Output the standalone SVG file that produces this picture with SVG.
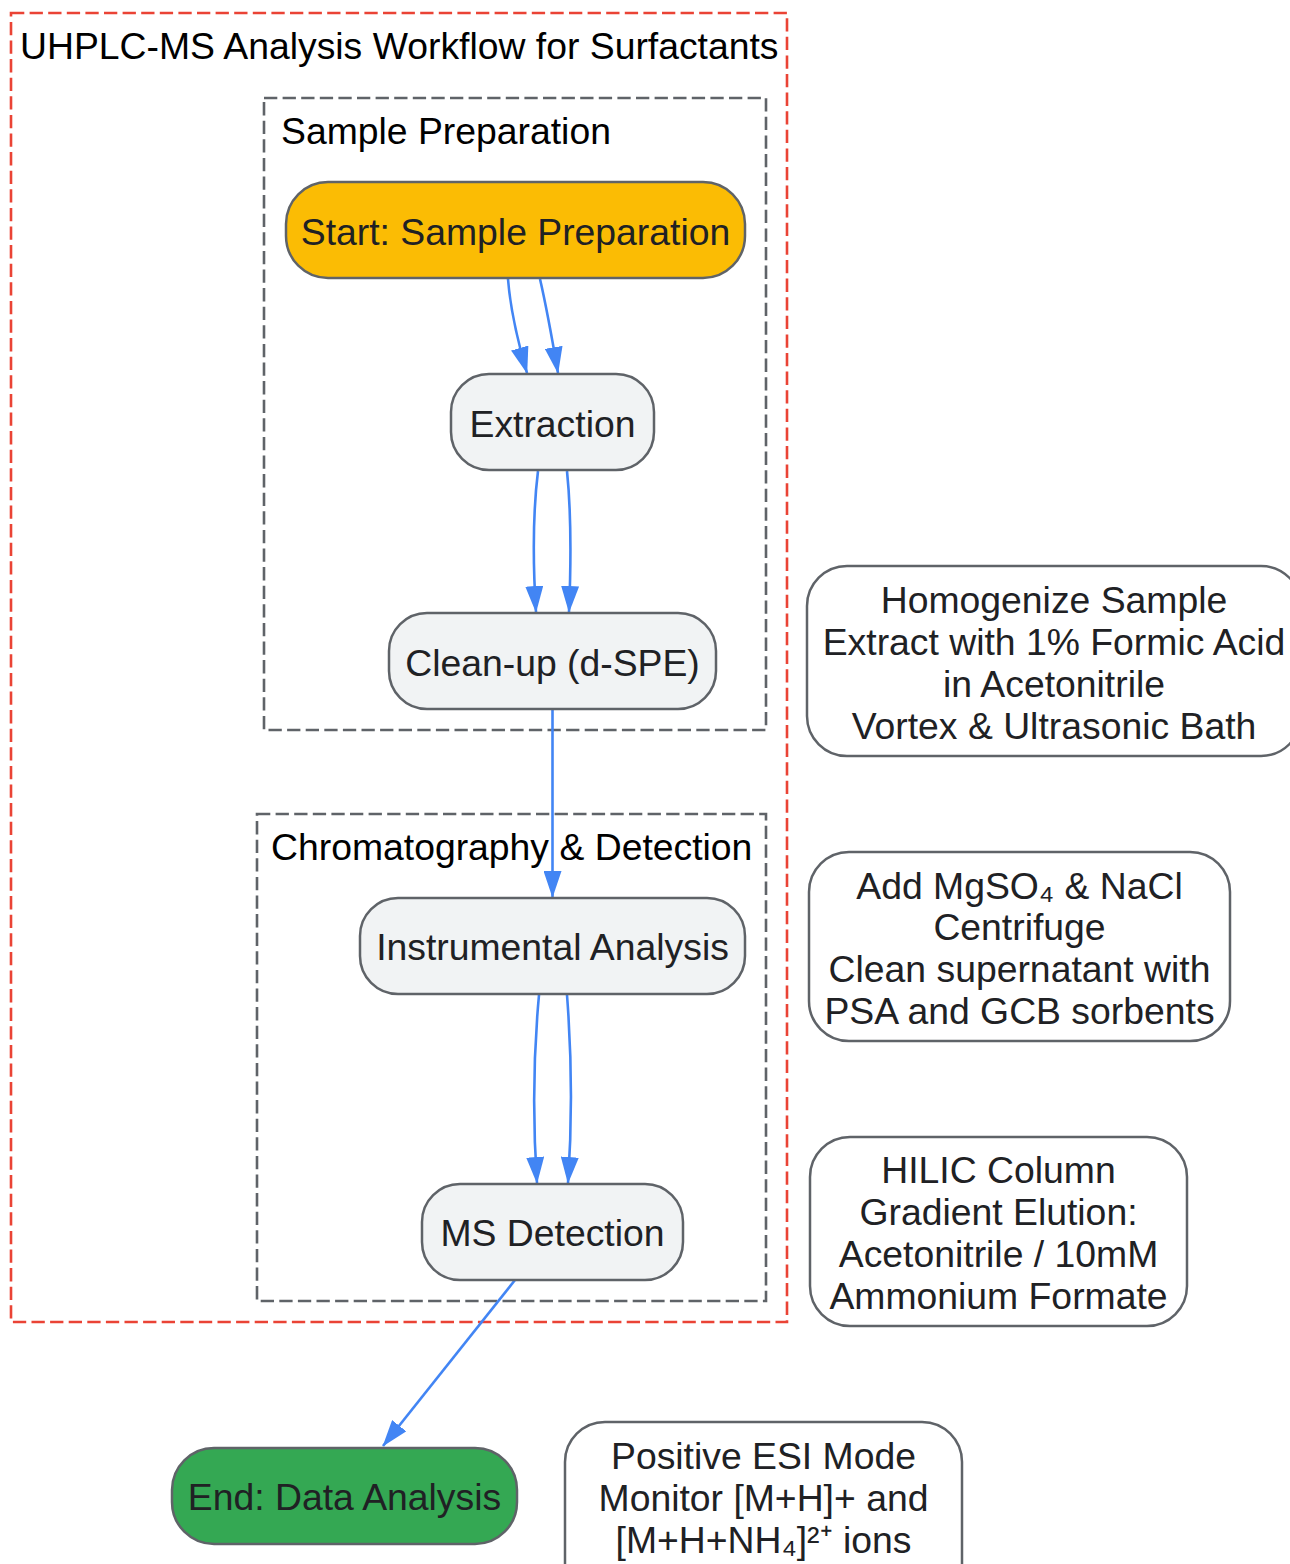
<svg xmlns="http://www.w3.org/2000/svg" width="1290" height="1564" viewBox="0 0 1290 1564">
<style>
text{font-family:"Liberation Sans",Arial,sans-serif;font-size:37.33px}
.cl{fill:#000}
.nt{fill:#202124;text-anchor:middle}
.node{fill:#f1f3f4;stroke:#5f6368;stroke-width:2.5}
.note{fill:#ffffff;stroke:#5f6368;stroke-width:2.5}
.edge{fill:none;stroke:#4285f4;stroke-width:2.6}
.clu{fill:none;stroke:#5f6368;stroke-width:2.6;stroke-dasharray:13.3,5.3}
</style>
<defs>
<marker id="ah" markerUnits="userSpaceOnUse" markerWidth="27" markerHeight="18" refX="26" refY="9" orient="auto">
<path d="M0,0 L26.7,9 L0,18 z" fill="#4285f4"/>
</marker>
</defs>
<rect width="1290" height="1564" fill="#ffffff"/>
<g id="cluster-outer">
<rect x="11" y="13" width="776" height="1309" fill="none" stroke="#ea4335" stroke-width="2.6" stroke-dasharray="13.3,5.3"/>
<text class="cl" x="20" y="59">UHPLC-MS Analysis Workflow for Surfactants</text>
</g>
<g id="cluster-prep">
<rect class="clu" x="264" y="98" width="502" height="632"/>
<text class="cl" x="281" y="144">Sample Preparation</text>
</g>
<g id="cluster-chrom">
<rect class="clu" x="257" y="814" width="509" height="487"/>
<text class="cl" x="271" y="860">Chromatography &amp; Detection</text>
</g>
<g id="connectors">
<path class="edge" marker-end="url(#ah)" d="M508,279 C510,305 515,332 527,373"/>
<path class="edge" marker-end="url(#ah)" d="M540,279 C546,305 551,332 558,373"/>
<path class="edge" marker-end="url(#ah)" d="M538,471 C532,520 533,565 536,612"/>
<path class="edge" marker-end="url(#ah)" d="M567,471 C572,520 571,565 569,612"/>
<path class="edge" marker-end="url(#ah)" d="M552.5,709 L552.5,897"/>
<path class="edge" marker-end="url(#ah)" d="M539,995 C533,1060 533,1125 537,1183"/>
<path class="edge" marker-end="url(#ah)" d="M567,995 C572,1060 572,1125 568,1183"/>
<path class="edge" marker-end="url(#ah)" d="M515,1280 L383,1446"/>
</g>
<g id="node-start">
<rect x="286" y="182" width="459" height="96" rx="42" fill="#fbbc04" stroke="#5f6368" stroke-width="2.5"/>
<text class="nt" x="515.5" y="245">Start: Sample Preparation</text>
</g>
<g id="node-extraction">
<rect class="node" x="451" y="374" width="203" height="96" rx="38"/>
<text class="nt" x="552.5" y="437">Extraction</text>
</g>
<g id="node-cleanup">
<rect class="node" x="389" y="613" width="327" height="96" rx="38"/>
<text class="nt" x="552.5" y="676">Clean-up (d-SPE)</text>
</g>
<g id="node-instrumental">
<rect class="node" x="360" y="898" width="385" height="96" rx="38"/>
<text class="nt" x="552.5" y="960">Instrumental Analysis</text>
</g>
<g id="node-ms">
<rect class="node" x="422" y="1184" width="261" height="96" rx="38"/>
<text class="nt" x="552.5" y="1246">MS Detection</text>
</g>
<g id="node-end">
<rect x="172" y="1448" width="345" height="96" rx="42" fill="#34a853" stroke="#5f6368" stroke-width="2.5"/>
<text class="nt" x="344.5" y="1510">End: Data Analysis</text>
</g>
<g id="note-extraction">
<rect class="note" x="807" y="566" width="494" height="190" rx="40"/>
<text class="nt" x="1054" y="613">Homogenize Sample</text>
<text class="nt" x="1054" y="655">Extract with 1% Formic Acid</text>
<text class="nt" x="1054" y="697">in Acetonitrile</text>
<text class="nt" x="1054" y="739">Vortex &amp; Ultrasonic Bath</text>
</g>
<g id="note-cleanup">
<rect class="note" x="809" y="852" width="421" height="189" rx="40"/>
<text class="nt" x="1019.5" y="899">Add MgSO₄ &amp; NaCl</text>
<text class="nt" x="1019.5" y="940">Centrifuge</text>
<text class="nt" x="1019.5" y="982">Clean supernatant with</text>
<text class="nt" x="1019.5" y="1024">PSA and GCB sorbents</text>
</g>
<g id="note-chrom">
<rect class="note" x="810" y="1137" width="377" height="189" rx="40"/>
<text class="nt" x="998.5" y="1183">HILIC Column</text>
<text class="nt" x="998.5" y="1225">Gradient Elution:</text>
<text class="nt" x="998.5" y="1267">Acetonitrile / 10mM</text>
<text class="nt" x="998.5" y="1309">Ammonium Formate</text>
</g>
<g id="note-ms">
<rect class="note" x="565" y="1422" width="397" height="190" rx="40"/>
<text class="nt" x="763.5" y="1469">Positive ESI Mode</text>
<text class="nt" x="763.5" y="1511">Monitor [M+H]+ and</text>
<text class="nt" x="763.5" y="1553">[M+H+NH₄]²⁺ ions</text>
</g>
</svg>
